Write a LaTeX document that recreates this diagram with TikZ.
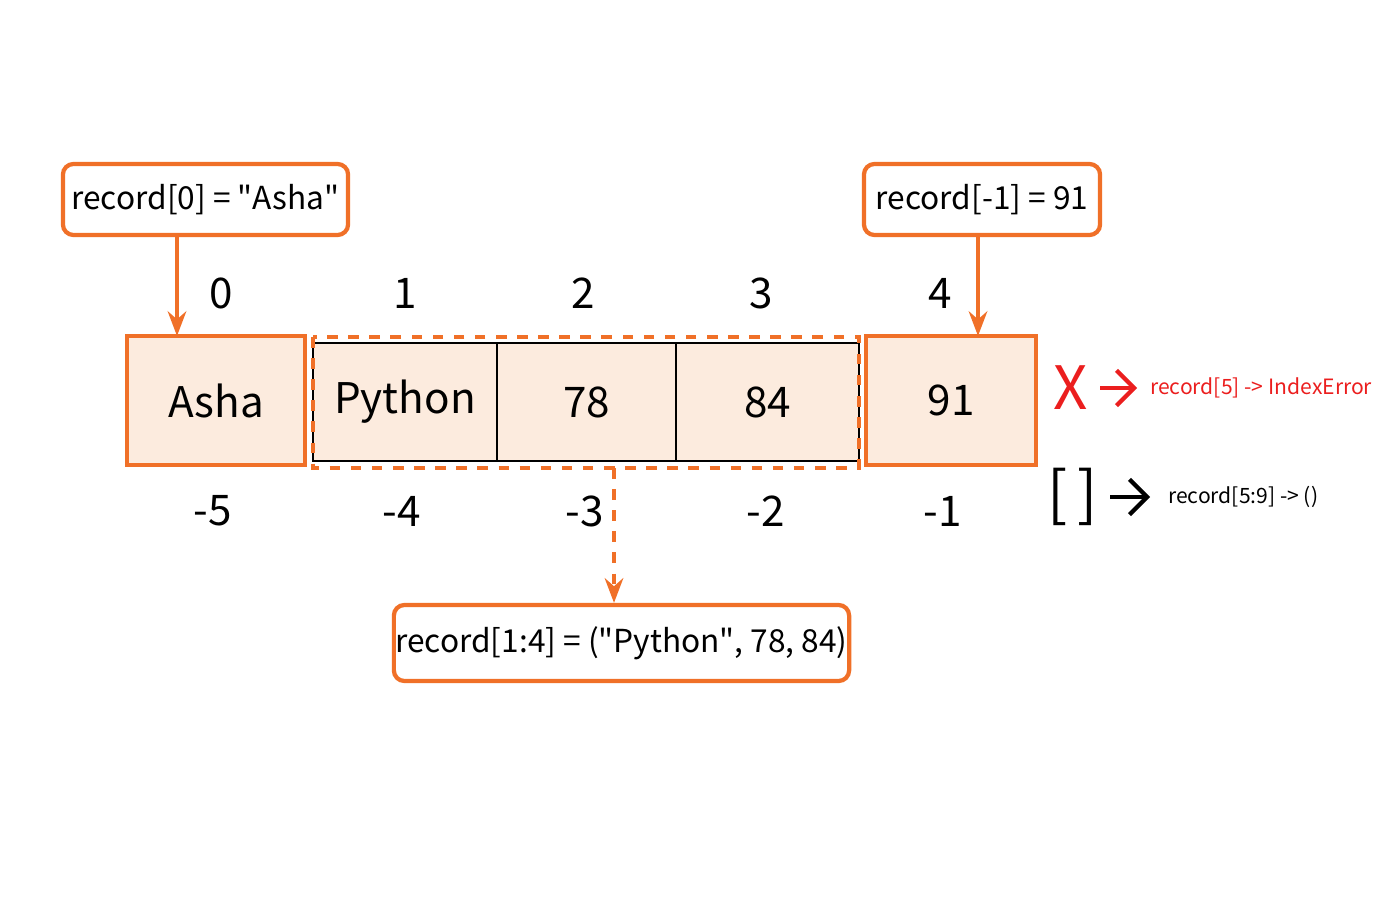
\documentclass[tikz,border=0pt]{standalone}
\usepackage{fontspec}
\setmainfont{Noto Sans CJK KR}
\usetikzlibrary{arrows.meta}
\definecolor{edge}{RGB}{240, 112, 40}
\definecolor{cellfill}{RGB}{252, 235, 222}
\definecolor{errred}{RGB}{235, 30, 30}
\tikzset{
  callout/.style={draw=edge, line width=1.2pt, rounded corners=3pt, fill=white, font=\fontsize{9}{11}\selectfont, inner sep=0pt},
  endcell/.style={draw=edge, line width=1.4pt, fill=cellfill, font=\fontsize{12}{14}\selectfont},
  midcell/.style={draw=black, line width=0.8pt, fill=cellfill, font=\fontsize{12}{14}\selectfont},
  idx/.style={font=\fontsize{12}{14}\selectfont},
  pointer/.style={draw=edge, line width=1.2pt, -{Stealth[length=7pt]}}
}
\begin{document}
\begin{tikzpicture}[x=0.01cm, y=-0.01cm]
			\useasboundingbox (0, 0) rectangle (1400, 900);
			% callout boxes
			\node[callout, minimum width=2.85cm, minimum height=0.71cm] (first) at (205.5, 199.5) {record[0] = \textquotedbl Asha\textquotedbl};
			\node[callout, minimum width=2.36cm, minimum height=0.71cm] (last) at (982, 199.5) {record[-1] = 91};
			\node[callout, minimum width=4.55cm, minimum height=0.76cm] (slice) at (621.5, 643) {record[1:4] = (\textquotedbl Python\textquotedbl, 78, 84)};
			% cells
			\filldraw [endcell] (127, 336) rectangle (305, 465) node[midway] (asha) {Asha};
			\filldraw [midcell] (313, 343) rectangle (497, 461) node[midway] (python) {Python};
			\filldraw [midcell] (497, 343) rectangle (676, 461) node[midway] (c78) {78};
			\filldraw [midcell] (676, 343) rectangle (859, 461) node[midway] (c84) {84};
			\filldraw [endcell] (866, 336) rectangle (1036, 465) node[midway] (c91) {91};
			\draw [draw=edge, line width=1.2pt, dashed] (313, 337) rectangle (859, 468);
			\coordinate (slicebot) at (614, 468);
			% indices
			\node[idx] (p0) at (221, 293) {0};
			\node[idx] (p1) at (405, 293) {1};
			\node[idx] (p2) at (583, 293) {2};
			\node[idx] (p3) at (761, 293) {3};
			\node[idx] (p4) at (940, 293) {4};
			\node[idx] (n5) at (213, 511) {-5};
			\node[idx] (n4) at (402, 511) {-4};
			\node[idx] (n3) at (585, 511) {-3};
			\node[idx] (n2) at (766, 511) {-2};
			\node[idx] (n1) at (943, 511) {-1};
			% pointers
			\coordinate (ashatop) at (177, 336);
			\coordinate (lasttop) at (978, 336);
			\draw [pointer] (first.south -| ashatop) -- (ashatop);
			\draw [pointer] (last.south -| lasttop) -- (lasttop);
			\draw [pointer, dashed] (slicebot) -- (slicebot |- slice.north);
			% out of range notes
			\node[text=errred, font=\fontsize{17}{19}\selectfont] (cross) at (1071, 388) {X};
			\node[text=errred, font=\fontsize{6}{8}\selectfont, anchor=west, inner sep=1pt] (err) at (1146, 388) {record[5] -> IndexError};
			\draw [draw=errred, line width=1.2pt, -{Straight Barb[length=5pt]}] (1100, 388) -- (1137, 388);
			\node[font=\fontsize{17}{19}\selectfont] (empty) at (1073, 497) {[\,]};
			\node[font=\fontsize{6}{8}\selectfont, anchor=west, inner sep=1pt] (emp) at (1164, 497) {record[5:9] -> ()};
			\draw [line width=1.2pt, -{Straight Barb[length=5pt]}] (1110, 497) -- (1150, 497);
		\end{tikzpicture}
\end{document}
